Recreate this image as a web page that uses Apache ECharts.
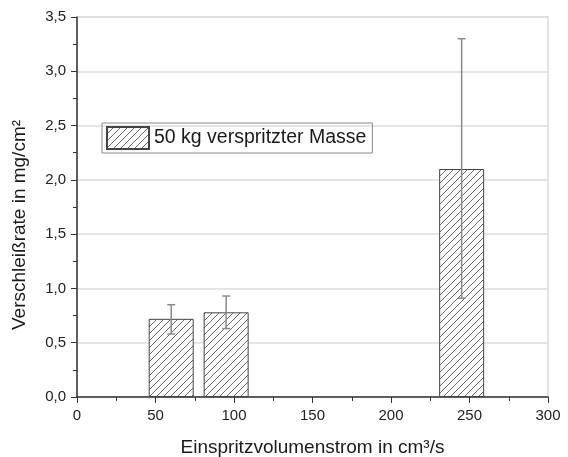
<!DOCTYPE html>
<html>
<head>
<meta charset="utf-8">
<script src="https://cdn.jsdelivr.net/npm/echarts@6/dist/echarts.min.js"></script>
<style>html,body{margin:0;padding:0;background:#fff}#c{width:568px;height:457px}</style>
</head>
<body>
<div id="c"></div>
<script>
const xPositions = [60, 95, 245];
const wearRate = [0.72, 0.78, 2.10];
const errLow = [0.58, 0.63, 0.91];
const errHigh = [0.85, 0.93, 3.30];
const xTicks = [0, 50, 100, 150, 200, 250, 300];
const yTicks = [0, 0.5, 1.0, 1.5, 2.0, 2.5, 3.0, 3.5];
const seriesName = '50 kg verspritzter Masse';
const xTitle = 'Einspritzvolumenstrom in cm³/s';
const yTitle = 'Verschleißrate in mg/cm²';

function hatch() {
  const s = 7;
  const c = document.createElement('canvas');
  c.width = s; c.height = s;
  const g = c.getContext('2d');
  g.fillStyle = '#fff';
  g.fillRect(0, 0, s, s);
  g.strokeStyle = '#6a6a6a';
  g.lineWidth = 1;
  g.beginPath();
  g.moveTo(0, s); g.lineTo(s, 0);
  g.moveTo(-1, 1); g.lineTo(1, -1);
  g.moveTo(s - 1, s + 1); g.lineTo(s + 1, s - 1);
  g.stroke();
  return c;
}
const pattern = { image: hatch(), repeat: 'repeat' };
const fmt = v => v.toFixed(1).replace('.', ',');
const font = 'Liberation Sans, Arial, sans-serif';

const chart = echarts.init(document.getElementById('c'));
chart.setOption({
  animation: false,
  textStyle: { fontFamily: font },
  grid: { left: 77, right: 20, top: 17, bottom: 60, outerBoundsMode: 'none', containLabel: false,
          show: true, borderColor: '#c8c8c8', borderWidth: 1 },
  legend: {
    left: 102, top: 123,
    data: [{ name: seriesName, icon: 'rect' }],
    itemWidth: 42, itemHeight: 22, itemGap: 6,
    padding: [3, 6, 3, 4],
    borderColor: '#8a8a8a', borderWidth: 1,
    textStyle: { fontSize: 19.5, color: '#1a1a1a' },
    selectedMode: false
  },
  graphic: [
    {
      type: 'text',
      x: 20, y: 225, rotation: Math.PI / 2,
      style: { text: yTitle, font: '19px ' + font, fill: '#1a1a1a', align: 'center', verticalAlign: 'middle' }
    }
  ],
  xAxis: {
    type: 'value', min: 0, max: 300, interval: 50,
    name: xTitle, nameLocation: 'middle', nameGap: 41,
    nameTextStyle: { fontSize: 19, color: '#1a1a1a' },
    axisLine: { lineStyle: { color: '#333', width: 1.5 } },
    axisTick: { show: true, length: 6, lineStyle: { color: '#333' } },
    minorTick: { show: true, splitNumber: 2, length: 4, lineStyle: { color: '#333' } },
    axisLabel: { fontSize: 15, color: '#222', margin: 11 },
    splitLine: { show: false }
  },
  yAxis: {
    type: 'value', min: 0, max: 3.5, interval: 0.5,
    axisLine: { show: true, lineStyle: { color: '#333', width: 1.5 } },
    axisTick: { show: true, length: 6, lineStyle: { color: '#333' } },
    minorTick: { show: true, splitNumber: 2, length: 4, lineStyle: { color: '#333' } },
    axisLabel: { fontSize: 15, color: '#222', margin: 11, formatter: fmt },
    splitLine: { show: true, lineStyle: { color: '#dcdcdc', width: 1.5 } }
  },
  series: [
    {
      name: seriesName,
      type: 'bar',
      barWidth: 45,
      itemStyle: { color: pattern, borderColor: '#444', borderWidth: 1 },
      data: xPositions.map((x, i) => [x, wearRate[i]]),
      z: 2
    },
    {
      type: 'custom',
      name: 'err',
      z: 3,
      data: xPositions.map((x, i) => [x, errLow[i], errHigh[i]]),
      renderItem: function (params, api) {
        const lo = api.coord([api.value(0), api.value(1)]);
        const hi = api.coord([api.value(0), api.value(2)]);
        const w = 4;
        const st = { stroke: '#8a8a8a', lineWidth: 1.5 };
        return {
          type: 'group',
          children: [
            { type: 'line', shape: { x1: hi[0], y1: hi[1], x2: lo[0], y2: lo[1] }, style: st },
            { type: 'line', shape: { x1: hi[0] - w, y1: hi[1], x2: hi[0] + w, y2: hi[1] }, style: st },
            { type: 'line', shape: { x1: lo[0] - w, y1: lo[1], x2: lo[0] + w, y2: lo[1] }, style: st }
          ]
        };
      }
    }
  ]
});
</script>
</body>
</html>
